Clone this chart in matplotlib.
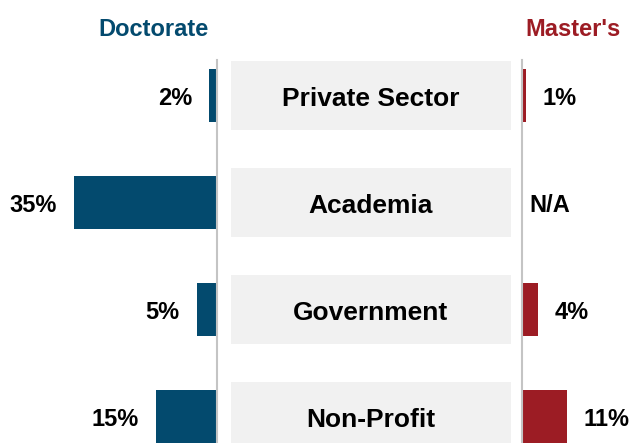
import matplotlib.pyplot as plt

plt.rcParams['font.family'] = ['Liberation Sans', 'DejaVu Sans']

sectors = ['Private Sector', 'Academia', 'Government', 'Non-Profit']
doctorate = [2, 35, 5, 15]
masters = [1, None, 4, 11]

blue = '#034a6e'
red = '#9c1c24'
line_gray = '#c4c4c4'
box_gray = '#f1f1f1'

W, H = 632, 443
fig = plt.figure(figsize=(W / 100, H / 100), dpi=100)

# rows are 107 px apart, first row centred at y=95.5 px, axes top at y=60 px
ylim = ((H - 95.5) / 107, (60 - 95.5) / 107)
ax_h = (H - 60) / H
px_per_pct = 4.1
pos = list(range(len(sectors)))
dy = -2.5  # text sits a little low in the original

# doctorate (left, grows leftwards)
axl = fig.add_axes([0, 0, 217 / W, ax_h])
axl.barh(pos, doctorate, height=0.5, color=blue)
axl.set_xlim(217 / px_per_pct, 0)
axl.set_ylim(*ylim)
for i, v in enumerate(doctorate):
    axl.annotate(f'{v}%', (v, i), xytext=(-12, dy), textcoords='offset points',
                 ha='right', va='center', fontsize=17, fontweight='bold')

# master's (right)
axr = fig.add_axes([522 / W, 0, 110 / W, ax_h])
mvals = [v if v is not None else 0 for v in masters]
axr.barh(pos, mvals, height=0.5, color=red)
axr.set_xlim(0, 110 / px_per_pct)
axr.set_ylim(*ylim)
for i, v in enumerate(masters):
    if v is None:
        axr.annotate('N/A', (0, i), xytext=(5, dy), textcoords='offset points',
                     ha='left', va='center', fontsize=17, fontweight='bold')
    else:
        axr.annotate(f'{v}%', (v, i), xytext=(12, dy), textcoords='offset points',
                     ha='left', va='center', fontsize=17, fontweight='bold')

# category boxes in the middle
axm = fig.add_axes([231 / W, 0, 280 / W, ax_h])
axm.barh(pos, [1] * len(sectors), height=0.645, left=0, color=box_gray)
axm.set_xlim(0, 1)
axm.set_ylim(*ylim)
for i, s in enumerate(sectors):
    axm.annotate(s, (0.5, i), xytext=(0, dy), textcoords='offset points',
                 ha='center', va='center', fontsize=19, fontweight='bold')

for ax in (axl, axr, axm):
    ax.set_xticks([])
    ax.set_yticks([])
    for sp in ax.spines.values():
        sp.set_visible(False)
axl.spines['right'].set_visible(True)
axl.spines['right'].set_color(line_gray)
axl.spines['right'].set_linewidth(1.5)
axr.spines['left'].set_visible(True)
axr.spines['left'].set_color(line_gray)
axr.spines['left'].set_linewidth(1.5)

fig.text(153 / W, 1 - 29 / H, 'Doctorate', color=blue, ha='center', va='center',
         fontsize=17, fontweight='bold')
fig.text(573 / W, 1 - 30 / H, "Master's", color=red, ha='center', va='center',
         fontsize=17, fontweight='bold')

fig.savefig('out.png', dpi=100)
